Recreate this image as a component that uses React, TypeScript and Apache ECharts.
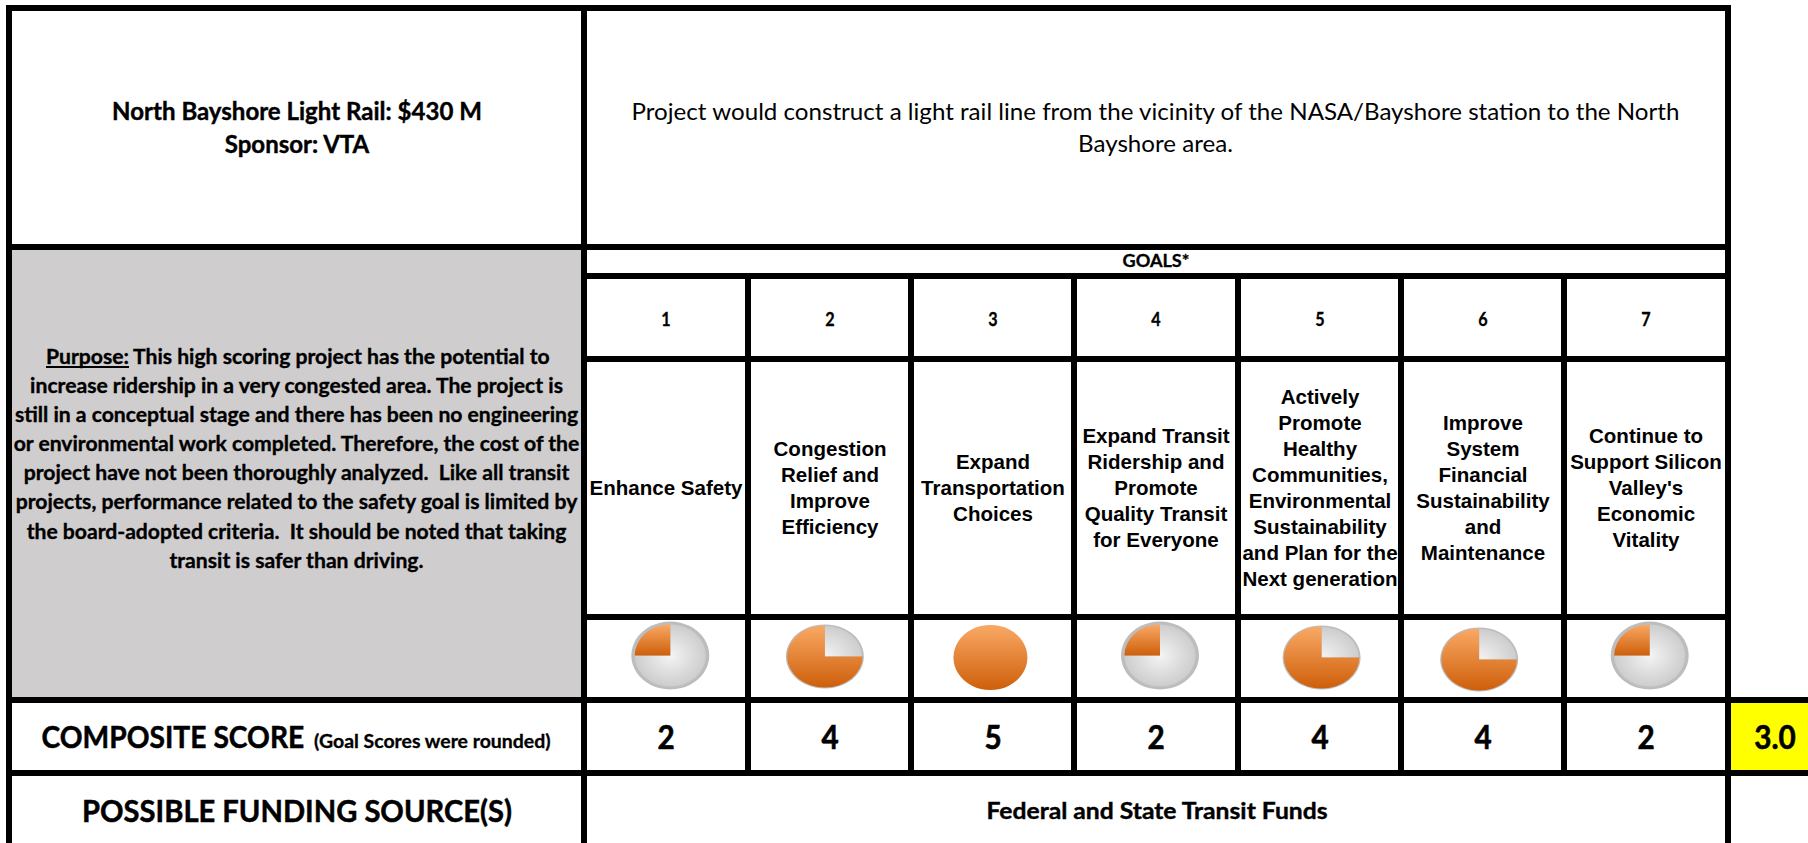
import React, { useEffect, useRef } from "react";
import * as echarts from "echarts";

// ---- content ----
const goalNumbers = ["1", "2", "3", "4", "5", "6", "7"];
const goalScores = [2, 4, 5, 2, 4, 4, 2];
const filledQuarters = [1, 3, 4, 1, 3, 3, 1];
const compositeScore = "3.0";
const goalNames = [
  "Enhance Safety",
  "Congestion\nRelief and\nImprove\nEfficiency",
  "Expand\nTransportation\nChoices",
  "Expand Transit\nRidership and\nPromote\nQuality Transit\nfor Everyone",
  "Actively\nPromote\nHealthy\nCommunities,\nEnvironmental\nSustainability\nand Plan for the\nNext generation",
  "Improve\nSystem\nFinancial\nSustainability\nand\nMaintenance",
  "Continue to\nSupport Silicon\nValley's\nEconomic\nVitality",
];
const projectTitle = ["North Bayshore Light Rail: $430 M", "Sponsor: VTA"];
const projectDescription = [
  "Project would construct a light rail line from the vicinity of the NASA/Bayshore station to the North",
  "Bayshore area.",
];
const purposeLabel = "Purpose:";
const purposeLines = [
  "This high scoring project has the potential to",
  "increase ridership in a very congested area. The project is",
  "still in a conceptual stage and there has been no engineering",
  "or environmental work completed. Therefore, the cost of the",
  "project have not been thoroughly analyzed.  Like all transit",
  "projects, performance related to the safety goal is limited by",
  "the board-adopted criteria.  It should be noted that taking",
  "transit is safer than driving.",
];

// ---- layout ----
const W = 1808;
const H = 843;
const LW = 6;
const vLines = [745, 908, 1071, 1235, 1398, 1561];
const numberCenters = [666, 830, 993, 1156, 1320, 1483, 1646];
const ballOffsetX = [2, -6, -3, 4, 3, -2, 6];
const ballOffsetY = [-3, -2, -1, -3, -1, 1, -3];
const ballWidth = [78, 78, 74, 78, 78, 78, 78];
const ballHeight = [68, 64, 65, 68, 64, 64, 68];

const CAL = "Lato";
const ARI = "'Liberation Sans'";
const measureCtx = document.createElement("canvas").getContext("2d")!;
function fitScale(sample: string, font: string, target: number) {
  measureCtx.font = font;
  return target / measureCtx.measureText(sample).width;
}
function txt(text: string, x: number, y: number, font: string, sx = 1, align = "center", lineHeight?: number, heavy = 0) {
  return {
    type: "text",
    x,
    y,
    scaleX: sx,
    silent: true,
    z: 10,
    style: {
      text,
      font,
      fill: "#000",
      align,
      verticalAlign: "middle",
      ...(heavy ? { stroke: "#000", lineWidth: heavy } : {}),
      ...(lineHeight ? { lineHeight } : {}),
    },
  };
}
function box(x: number, y: number, w: number, h: number, fill = "#000", z = 5) {
  return { type: "rect", silent: true, z, shape: { x, y, width: w, height: h }, style: { fill } };
}

function buildGraphic() {
  const els: any[] = [];
  // fills
  els.push(box(12, 250, 569, 447, "#CFCDCE", 1));
  els.push(box(1731, 703, 77, 67, "#FFFF00", 1));
  // horizontal rules
  els.push(box(6, 5, 1725, LW));
  els.push(box(6, 244, 1725, LW));
  els.push(box(587, 273, 1138, LW));
  els.push(box(587, 356, 1138, LW));
  els.push(box(587, 614, 1138, LW));
  els.push(box(6, 697, W - 6, LW));
  els.push(box(6, 770, W - 6, LW));
  // vertical rules
  els.push(box(6, 5, LW, H - 5));
  els.push(box(581, 5, LW, H - 5));
  els.push(box(1725, 5, LW, H - 5));
  vLines.forEach((x) => els.push(box(x, 276, LW, 497)));

  // header
  const fTitle = `bold 24px ${CAL}`;
  const sTitle = fitScale(projectTitle[0], fTitle, 370);
  els.push(txt(projectTitle[0], 297, 111, fTitle, sTitle, "center", undefined, 0.4));
  els.push(txt(projectTitle[1], 297, 144, fTitle, sTitle, "center", undefined, 0.4));
  const fDesc = `24px ${CAL}`;
  const sDesc = fitScale(projectDescription[0], fDesc, 1050);
  els.push(txt(projectDescription[0], 1155.5, 111, fDesc, sDesc));
  els.push(txt(projectDescription[1], 1155.5, 143, fDesc, sDesc));

  // purpose
  const fPur = `bold 20px ${CAL}`;
  const sPur = fitScale(purposeLines[3], fPur, 568);
  const rowY = [356, 385, 414, 443, 472, 501, 531, 560];
  els.push(txt(purposeLabel, 46, rowY[0], fPur, sPur, "left", undefined, 0.35));
  els.push(box(46, 366, 83, 2, "#000", 11));
  els.push(txt(purposeLines[0], 133, rowY[0], fPur, sPur, "left", undefined, 0.35));
  purposeLines.slice(1).forEach((l, i) => els.push(txt(l, 296.5, rowY[i + 1], fPur, sPur, "center", undefined, 0.35)));

  // goals header
  const fSmall = `bold 17px ${CAL}`;
  els.push(txt("GOALS*", 1156, 261, fSmall, fitScale("GOALS*", fSmall, 67), "center", undefined, 0.3));
  const fNum = `bold 18px ${CAL}`;
  goalNumbers.forEach((n, i) => els.push(txt(n, numberCenters[i], 319, fNum, 0.9, "center", undefined, 0.3)));

  // goal names
  const fGoal = `bold 20px ${ARI}`;
  const sGoal = fitScale("Enhance Safety", fGoal, 153);
  goalNames.forEach((n, i) => els.push(txt(n, numberCenters[i], 488, fGoal, sGoal, "center", 26)));

  // composite row
  const fScore = `bold 33px ${CAL}`;
  goalScores.forEach((s, i) => els.push(txt(String(s), numberCenters[i], 736, fScore, 0.9, "center", undefined, 0.6)));
  els.push(txt(compositeScore, 1775, 736, fScore, 0.9, "center", undefined, 0.6));
  const fBig = `bold 31px ${CAL}`;
  els.push(txt("COMPOSITE SCORE", 41.5, 736, fBig, fitScale("COMPOSITE SCORE", fBig, 263), "left", undefined, 0.5));
  const fNote = `bold 18px ${CAL}`;
  els.push(txt("(Goal Scores were rounded)", 314, 741, fNote, fitScale("(Goal Scores were rounded)", fNote, 237), "left", undefined, 0.3));
  els.push(txt("POSSIBLE FUNDING SOURCE(S)", 297, 810, fBig, fitScale("POSSIBLE FUNDING SOURCE(S)", fBig, 430), "center", undefined, 0.5));
  const fFund = `bold 23px ${CAL}`;
  els.push(txt("Federal and State Transit Funds", 1157, 810, fFund, fitScale("Federal and State Transit Funds", fFund, 342), "center", undefined, 0.4));
  return els;
}

const orange = () =>
  new echarts.graphic.LinearGradient(0, 0, 0, 1, [
    { offset: 0, color: "#F9A965" },
    { offset: 1, color: "#CE5F0A" },
  ]);
const greyStops = [
  { offset: 0, color: "#F4F4F4" },
  { offset: 1, color: "#CDCDCD" },
];

function renderBall(_: any, api: any) {
  const i = api.value(0);
  const q = api.value(2);
  const c = api.coord([i, 0]);
  const h = ballHeight[i];
  const r = h / 2;
  const start = -Math.PI / 2;
  const split = start - (q / 4) * Math.PI * 2;
  const children: any[] = [];
  if (q < 4) {
    const bw = q === 1 ? 3 : 1.5;
    children.push({
      type: "sector",
      shape: { cx: 0, cy: 0, r0: 0, r, startAngle: 0, endAngle: Math.PI * 2 },
      style: { fill: "#BDBDBD" },
    });
    children.push({
      type: "sector",
      shape: { cx: 0, cy: 0, r0: 0, r: r - bw, startAngle: split, endAngle: start - Math.PI * 2, clockwise: false },
      style: {
        fill: q === 1
          ? new echarts.graphic.RadialGradient(0.5, 0.5, 0.5, greyStops)
          : new echarts.graphic.RadialGradient(0, 1, 1, greyStops),
      },
    });
  }
  children.push({
    type: "sector",
    shape: {
      cx: 0, cy: 0, r0: 0,
      r: q < 4 ? r - (q === 1 ? 3 : 1) : r,
      startAngle: start,
      endAngle: split,
      clockwise: false,
    },
    style: { fill: orange() },
  });
  return {
    type: "group",
    x: c[0] + ballOffsetX[i],
    y: c[1] + ballOffsetY[i],
    scaleX: ballWidth[i] / h,
    children,
  };
}

export default function App() {
  const ref = useRef<HTMLDivElement>(null);
  useEffect(() => {
    document.body.style.margin = "0";
    document.body.style.overflow = "hidden";
    const chart = echarts.init(ref.current!, null, { renderer: "svg" });
    chart.setOption({
      animation: false,
      backgroundColor: "#fff",
      grid: { left: 587, right: W - 1725, top: 620, bottom: H - 697 },
      xAxis: { type: "category", data: goalNumbers, show: false },
      yAxis: { type: "value", min: -1, max: 1, show: false },
      graphic: { elements: buildGraphic() },
      series: [
        {
          type: "custom",
          coordinateSystem: "cartesian2d",
          silent: true,
          clip: false,
          z: 8,
          data: goalNumbers.map((_, i) => [i, 0, filledQuarters[i]]),
          renderItem: renderBall,
        },
      ],
    });
    return () => chart.dispose();
  }, []);
  return <div ref={ref} style={{ width: W, height: H }} />;
}
